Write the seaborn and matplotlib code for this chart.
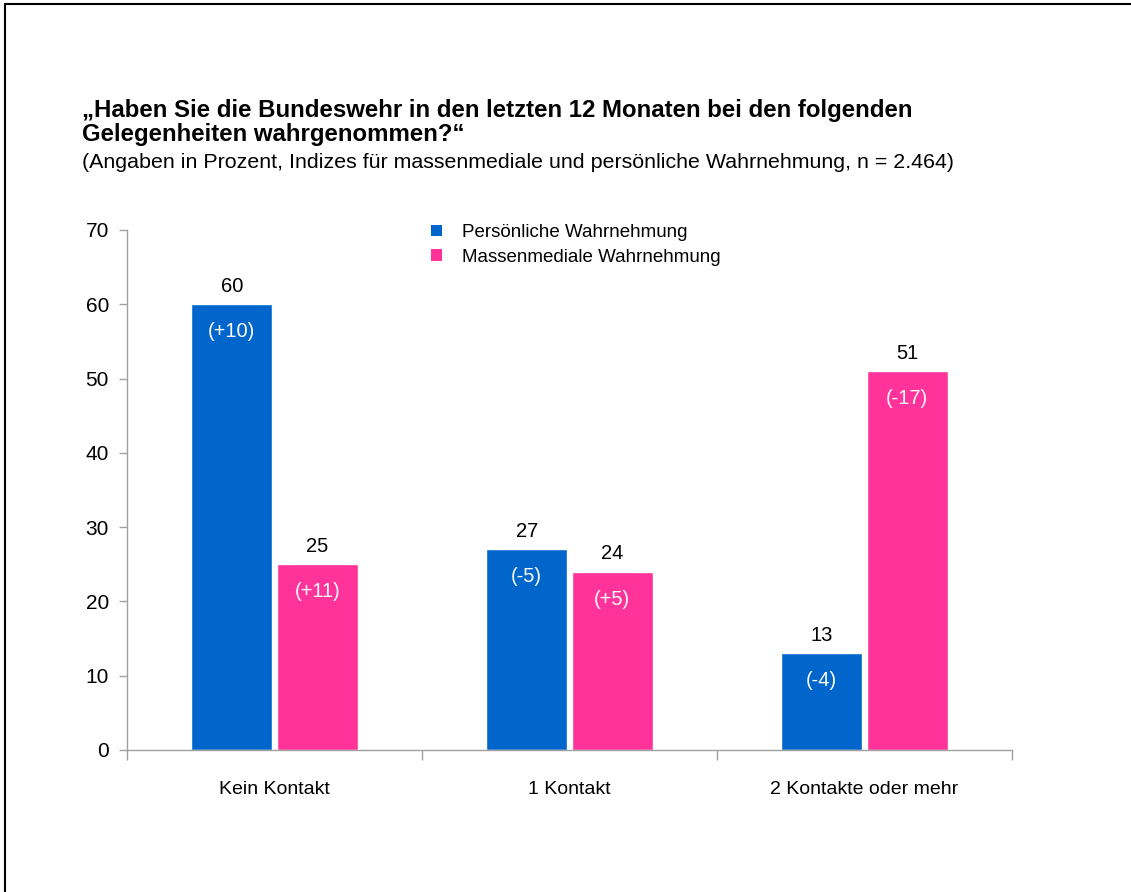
import pandas as pd
import numpy as np
import matplotlib.pyplot as plt
import seaborn as sns
from matplotlib.patches import Patch
from matplotlib.lines import Line2D

categories = ['Kein Kontakt', '1 Kontakt', '2 Kontakte oder mehr']
series = ['Persönliche Wahrnehmung', 'Massenmediale Wahrnehmung']
persoenlich = [60, 27, 13]
massenmedial = [25, 24, 51]
change_persoenlich = ['(+10)', '(-5)', '(-4)']
change_massenmedial = ['(+11)', '(+5)', '(-17)']
colors = ['#0066CC', '#FF3399']

sns.set_style('white')
plt.rcParams['font.family'] = ['Liberation Sans', 'DejaVu Sans']
plt.rcParams['text.color'] = 'black'
plt.rcParams['xtick.labelcolor'] = 'black'
plt.rcParams['ytick.labelcolor'] = 'black'

df = pd.DataFrame({
    'Kategorie': categories * 2,
    'Serie': [series[0]] * 3 + [series[1]] * 3,
    'Wert': persoenlich + massenmedial,
    'Change': change_persoenlich + change_massenmedial,
})

fig = plt.figure(figsize=(11.31, 8.92), dpi=100)
ax = fig.add_axes([0.1123, 0.1592, 0.7825, 0.583])

sns.barplot(data=df, x='Kategorie', y='Wert', hue='Serie', order=categories,
            hue_order=series, palette=colors, width=0.58, gap=0.05,
            saturation=1, ax=ax, legend=False)

# labels: value above, change inside
for container, s in zip(ax.containers, series):
    sub = df[df['Serie'] == s].set_index('Kategorie').loc[categories]
    for bar, val, ch in zip(container, sub['Wert'], sub['Change']):
        cx = bar.get_x() + bar.get_width() / 2
        top = bar.get_height()
        ax.annotate(str(val), (cx, top), xytext=(0, 6), textcoords='offset points',
                    ha='center', va='bottom', fontsize=14.5, color='black')
        ax.annotate(ch, (cx, top), xytext=(0, -13), textcoords='offset points',
                    ha='center', va='top', fontsize=14.5, color='white')

ax.set_xlim(-0.5, 2.5)
ax.set_ylim(0, 70)
ax.set_yticks(range(0, 71, 10))
ax.set_xlabel('')
ax.set_ylabel('')
ax.set_xticks([0, 1, 2])
ax.set_xticklabels(categories, fontsize=14)
ax.set_xticks([-0.5, 0.5, 1.5, 2.5], minor=True)
ax.tick_params(axis='x', which='major', length=0, pad=22, labelcolor='black')
ax.tick_params(axis='x', which='minor', length=7, color='#A0A0A0', width=1, direction='out', bottom=True)
ax.tick_params(axis='y', length=6, color='#A0A0A0', width=1, direction='out', labelsize=15,
               left=True, pad=7, labelcolor='black')
for side in ['top', 'right']:
    ax.spines[side].set_visible(False)
for side in ['left', 'bottom']:
    ax.spines[side].set_color('#A0A0A0')
    ax.spines[side].set_linewidth(1)

handles = [Patch(facecolor=c, edgecolor='none') for c in colors]
ax.legend(handles, series, loc='upper left', bbox_to_anchor=(0.326, 1.04),
          frameon=False, fontsize=13.5, handlelength=0.6, handleheight=0.6,
          handletextpad=1.1, labelspacing=0.4, borderpad=0.3, labelcolor='black')

fig.text(0.0725, 1 - 110 / 892, '„Haben Sie die Bundeswehr in den letzten 12 Monaten bei den folgenden',
         fontsize=17.3, fontweight='bold', ha='left', va='center')
fig.text(0.0725, 1 - 134 / 892, 'Gelegenheiten wahrgenommen?“',
         fontsize=17.3, fontweight='bold', ha='left', va='center')
fig.text(0.0725, 1 - 163 / 892, '(Angaben in Prozent, Indizes für massenmediale und persönliche Wahrnehmung, n = 2.464)',
         fontsize=15.4, ha='left', va='center')

# partial frame (top and left)
fig.add_artist(Line2D([0.004, 0.004], [0, 0.996], transform=fig.transFigure, color='black', lw=1.5))
fig.add_artist(Line2D([0.004, 1], [0.996, 0.996], transform=fig.transFigure, color='black', lw=1.5))

fig.savefig('out.png', dpi=100)
